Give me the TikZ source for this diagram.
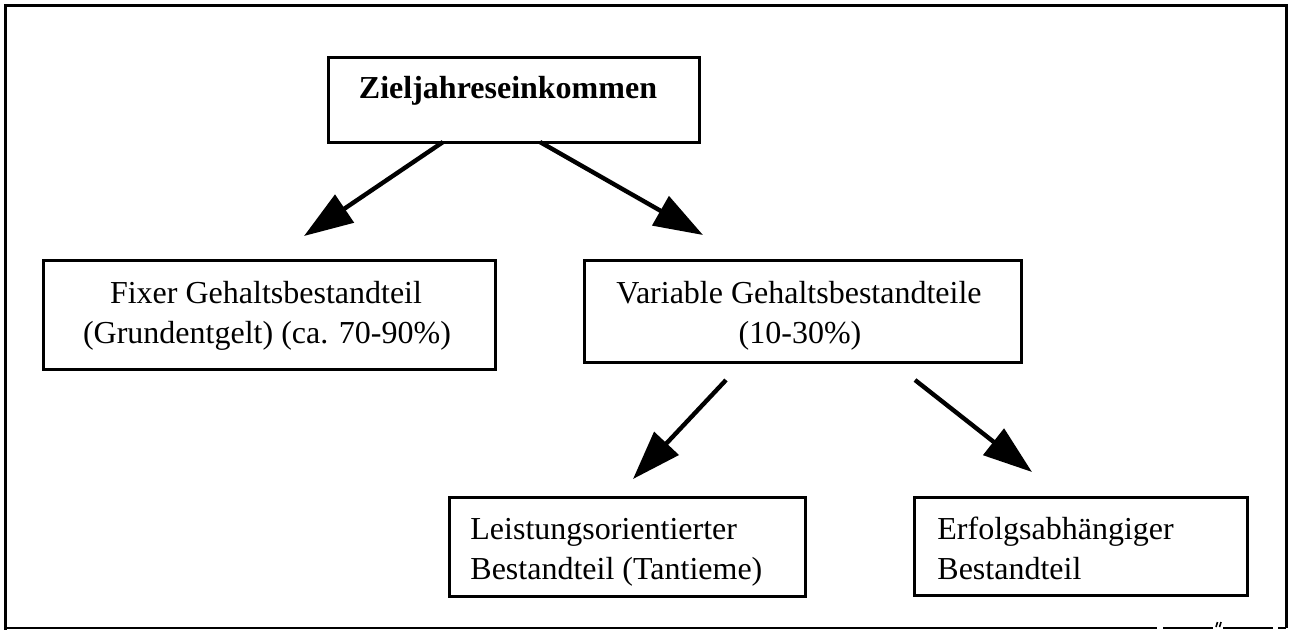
\documentclass[tikz,border=0pt]{standalone}
\usepackage{fontspec}
\setmainfont{Liberation Serif}
\usetikzlibrary{arrows.meta}
\begin{document}
\begin{tikzpicture}[x=0.5pt,y=-0.5pt,
  frame/.style={line width=1.5pt,line cap=rect},
  thinframe/.style={line width=0.8pt},
  box/.style={draw,line width=1.5pt,inner sep=0pt,rectangle},
  txt/.style={inner sep=0pt,font=\fontsize{16pt}{20pt}\selectfont},
  link/.style={line width=2.2pt,-{Triangle[length=24.5pt,width=16.5pt]}}]
\useasboundingbox (0,0) rectangle (1289,629);

% outer frame
\draw[frame] (5.5,628) -- (5.5,5.5) -- (1286,5.5) -- (1286,626);
\draw[thinframe] (5.5,628) -- (1157,628);
\draw[thinframe] (1163,628) -- (1213,628);
\draw[thinframe] (1216,627) -- (1217.5,622) (1219.5,627) -- (1221,622);
\draw[thinframe] (1223,628) -- (1273,628);
\draw[thinframe] (1278,628) -- (1286,628);

% boxes
\node[box,minimum width=185.5pt,minimum height=42.5pt] (top) at (513.5,99.5) {};
\node[box,minimum width=226pt,minimum height=54.5pt] (fix) at (269,314.5) {};
\node[box,minimum width=218.5pt,minimum height=51pt] (var) at (802.5,311) {};
\node[box,minimum width=178pt,minimum height=49.5pt] (lei) at (627,546.5) {};
\node[box,minimum width=166.5pt,minimum height=49pt] (erf) at (1080.5,546) {};

% labels
\node[txt,anchor=base] (topT) at (508,98) {\textbf{Zieljahreseinkommen}};
\node[txt,anchor=base] (fixA) at (266,303) {Fixer Gehaltsbestandteil};
\node[txt,anchor=base] (fixB) at (267,343) {(Grundentgelt) (ca. 70-90\%)};
\node[txt,anchor=base] (varA) at (799,303) {Variable Gehaltsbestandteile};
\node[txt,anchor=base] (varB) at (800,343) {(10-30\%)};
\node[txt,anchor=base west] (leiA) at (470,539) {Leistungsorientierter};
\node[txt,anchor=base west] (leiB) at (470,579) {Bestandteil (Tantieme)};
\node[txt,anchor=base west] (erfA) at (937,539) {Erfolgsabhängiger};
\node[txt,anchor=base west] (erfB) at (937,579) {Bestandteil};

% connector end points
\coordinate (s1) at (443,142);
\coordinate (e1) at (304,236);
\coordinate (s2) at (540,142);
\coordinate (e2) at (703,235);
\coordinate (s3) at (726,380);
\coordinate (e3) at (633,479);
\coordinate (s4) at (915,380);
\coordinate (e4) at (1032,472);

\draw[link] (s1) -- (e1);
\draw[link] (s2) -- (e2);
\draw[link] (s3) -- (e3);
\draw[link] (s4) -- (e4);
\end{tikzpicture}
\end{document}
